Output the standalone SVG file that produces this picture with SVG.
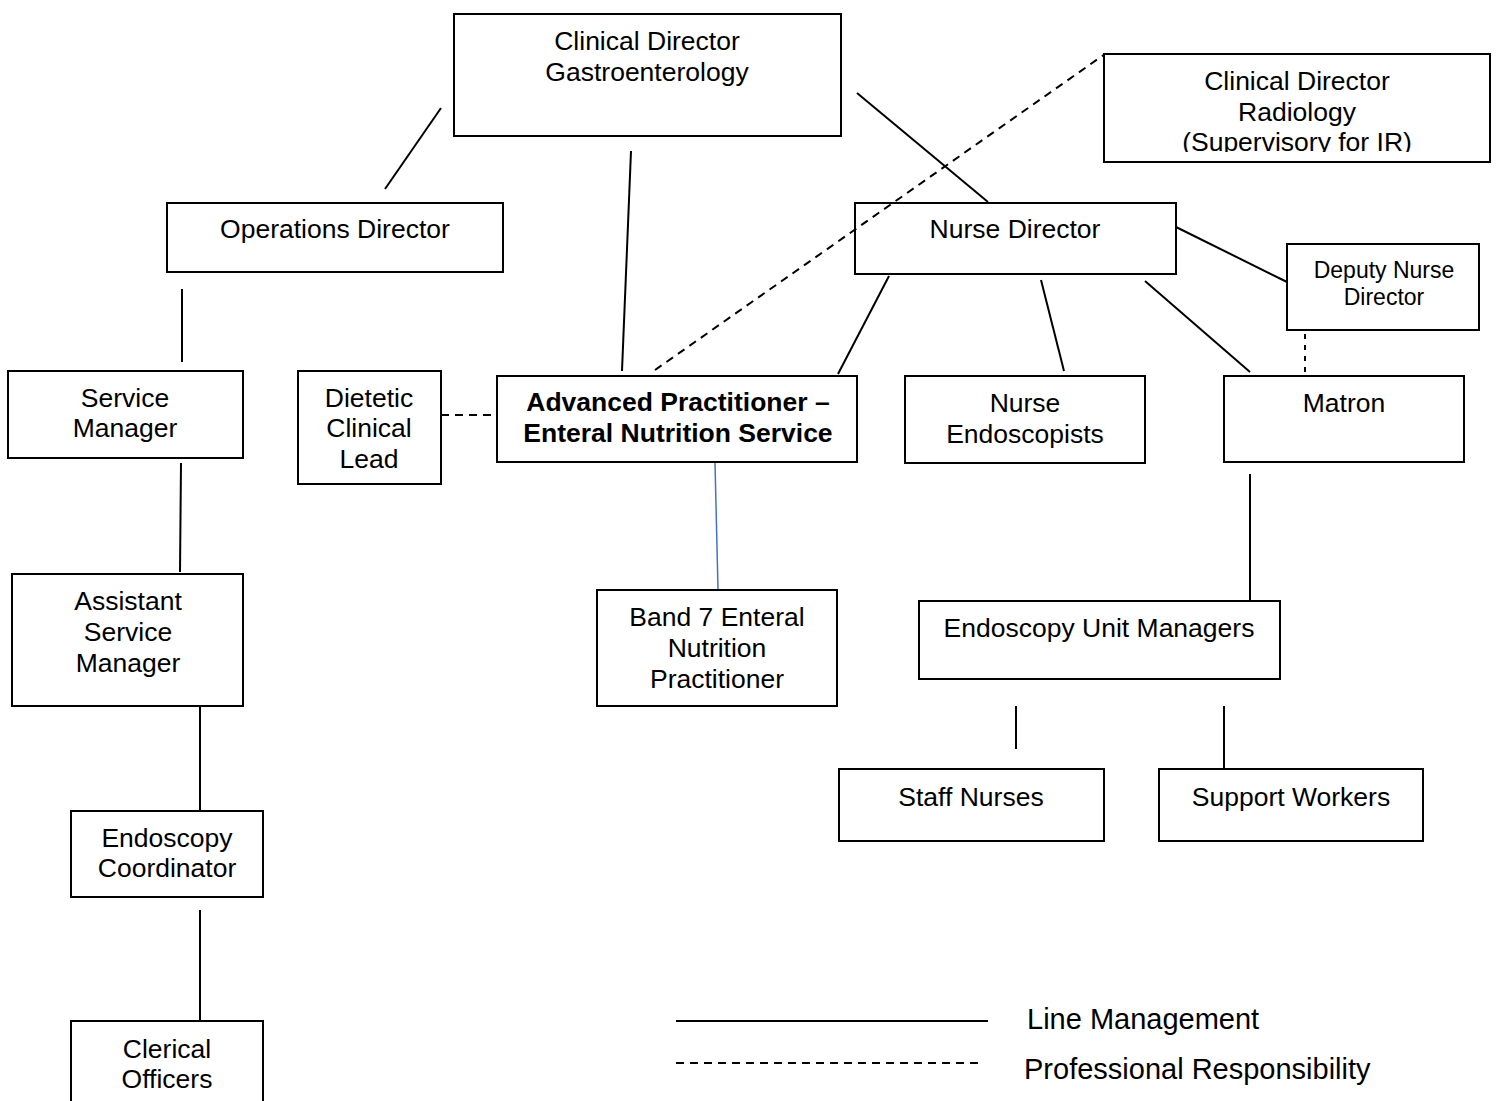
<svg xmlns="http://www.w3.org/2000/svg" width="1496" height="1101" viewBox="0 0 1496 1101">
<style>
.b{fill:none;stroke:#000;stroke-width:2}
.t{font-family:"Liberation Sans",Arial,sans-serif;font-size:26.5px;fill:#000;text-anchor:middle}
.s{font-size:23px}
.g{font-size:29px;text-anchor:start}
.bold{font-weight:bold}
.l{stroke:#000;stroke-width:2;fill:none}
.d{stroke-dasharray:8,6}
</style>
<defs>
<clipPath id="cr"><rect x="1104" y="54" width="386" height="98"/></clipPath>
</defs>
<rect width="1496" height="1101" fill="#fff"/>
<g id="connectors">
<line class="l" x1="441" y1="108" x2="385" y2="189"/>
<line class="l" x1="631" y1="151" x2="622" y2="371"/>
<line class="l" x1="857" y1="93" x2="988" y2="202"/>
<line class="l d" x1="655" y1="370" x2="1105" y2="54"/>
<line class="l" x1="182" y1="289" x2="182" y2="362"/>
<line class="l" x1="889" y1="276" x2="838" y2="374"/>
<line class="l" x1="1041" y1="280" x2="1064" y2="371"/>
<line class="l" x1="1145" y1="281" x2="1250" y2="372"/>
<line class="l" x1="1176" y1="227" x2="1287" y2="282"/>
<line class="l" x1="1305" y1="334" x2="1305" y2="375" stroke-dasharray="5,6"/>
<line class="l d" x1="441" y1="415" x2="497" y2="415"/>
<line x1="715" y1="463" x2="718" y2="589" stroke="#4472C4" stroke-width="1.5"/>
<line class="l" x1="181" y1="463" x2="180" y2="572"/>
<line class="l" x1="200" y1="707" x2="200" y2="810"/>
<line class="l" x1="200" y1="910" x2="200" y2="1020"/>
<line class="l" x1="1250" y1="474" x2="1250" y2="600"/>
<line class="l" x1="1016" y1="706" x2="1016" y2="749"/>
<line class="l" x1="1224" y1="706" x2="1224" y2="769"/>
</g>
<g id="cd-gastro"><rect class="b" x="454" y="14" width="387" height="122"/>
<text class="t" x="647" y="50">Clinical Director</text><text class="t" x="647" y="81">Gastroenterology</text></g>
<g id="cd-radiology"><rect class="b" x="1104" y="54" width="386" height="108"/>
<g clip-path="url(#cr)"><text class="t" x="1297" y="90">Clinical Director</text><text class="t" x="1297" y="121">Radiology</text><text class="t" x="1297" y="151">(Supervisory for IR)</text></g></g>
<g id="ops-director"><rect class="b" x="167" y="203" width="336" height="69"/>
<text class="t" x="335" y="238">Operations Director</text></g>
<g id="nurse-director"><rect class="b" x="855" y="203" width="321" height="71"/>
<text class="t" x="1015" y="238">Nurse Director</text></g>
<g id="deputy-nurse-director"><rect class="b" x="1287" y="244" width="192" height="86"/>
<text class="t s" x="1384" y="278">Deputy Nurse</text><text class="t s" x="1384" y="305">Director</text></g>
<g id="service-manager"><rect class="b" x="8" y="371" width="235" height="87"/>
<text class="t" x="125" y="407">Service</text><text class="t" x="125" y="437">Manager</text></g>
<g id="dietetic-lead"><rect class="b" x="298" y="371" width="143" height="113"/>
<text class="t" x="369" y="407">Dietetic</text><text class="t" x="369" y="437">Clinical</text><text class="t" x="369" y="468">Lead</text></g>
<g id="advanced-practitioner"><rect class="b" x="497" y="376" width="360" height="86"/>
<text class="t bold" x="678" y="411">Advanced Practitioner –</text><text class="t bold" x="678" y="442">Enteral Nutrition Service</text></g>
<g id="nurse-endoscopists"><rect class="b" x="905" y="376" width="240" height="87"/>
<text class="t" x="1025" y="412">Nurse</text><text class="t" x="1025" y="443">Endoscopists</text></g>
<g id="matron"><rect class="b" x="1224" y="376" width="240" height="86"/>
<text class="t" x="1344" y="412">Matron</text></g>
<g id="band7"><rect class="b" x="597" y="590" width="240" height="116"/>
<text class="t" x="717" y="626">Band 7 Enteral</text><text class="t" x="717" y="657">Nutrition</text><text class="t" x="717" y="688">Practitioner</text></g>
<g id="assistant-service-manager"><rect class="b" x="12" y="574" width="231" height="132"/>
<text class="t" x="128" y="610">Assistant</text><text class="t" x="128" y="641">Service</text><text class="t" x="128" y="672">Manager</text></g>
<g id="endoscopy-unit-managers"><rect class="b" x="919" y="601" width="361" height="78"/>
<text class="t" x="1099" y="637">Endoscopy Unit Managers</text></g>
<g id="staff-nurses"><rect class="b" x="839" y="769" width="265" height="72"/>
<text class="t" x="971" y="806">Staff Nurses</text></g>
<g id="support-workers"><rect class="b" x="1159" y="769" width="264" height="72"/>
<text class="t" x="1291" y="806">Support Workers</text></g>
<g id="endoscopy-coordinator"><rect class="b" x="71" y="811" width="192" height="86"/>
<text class="t" x="167" y="847">Endoscopy</text><text class="t" x="167" y="877">Coordinator</text></g>
<g id="clerical-officers"><rect class="b" x="71" y="1021" width="192" height="100"/>
<text class="t" x="167" y="1058">Clerical</text><text class="t" x="167" y="1088">Officers</text></g>
<g id="legend">
<line class="l" x1="676" y1="1021" x2="988" y2="1021"/>
<line class="l" x1="676" y1="1063" x2="980" y2="1063" stroke-dasharray="8,6" stroke-width="1.5"/>
<text class="t g" x="1027" y="1029">Line Management</text>
<text class="t g" x="1024" y="1079">Professional Responsibility</text>
</g>
</svg>
